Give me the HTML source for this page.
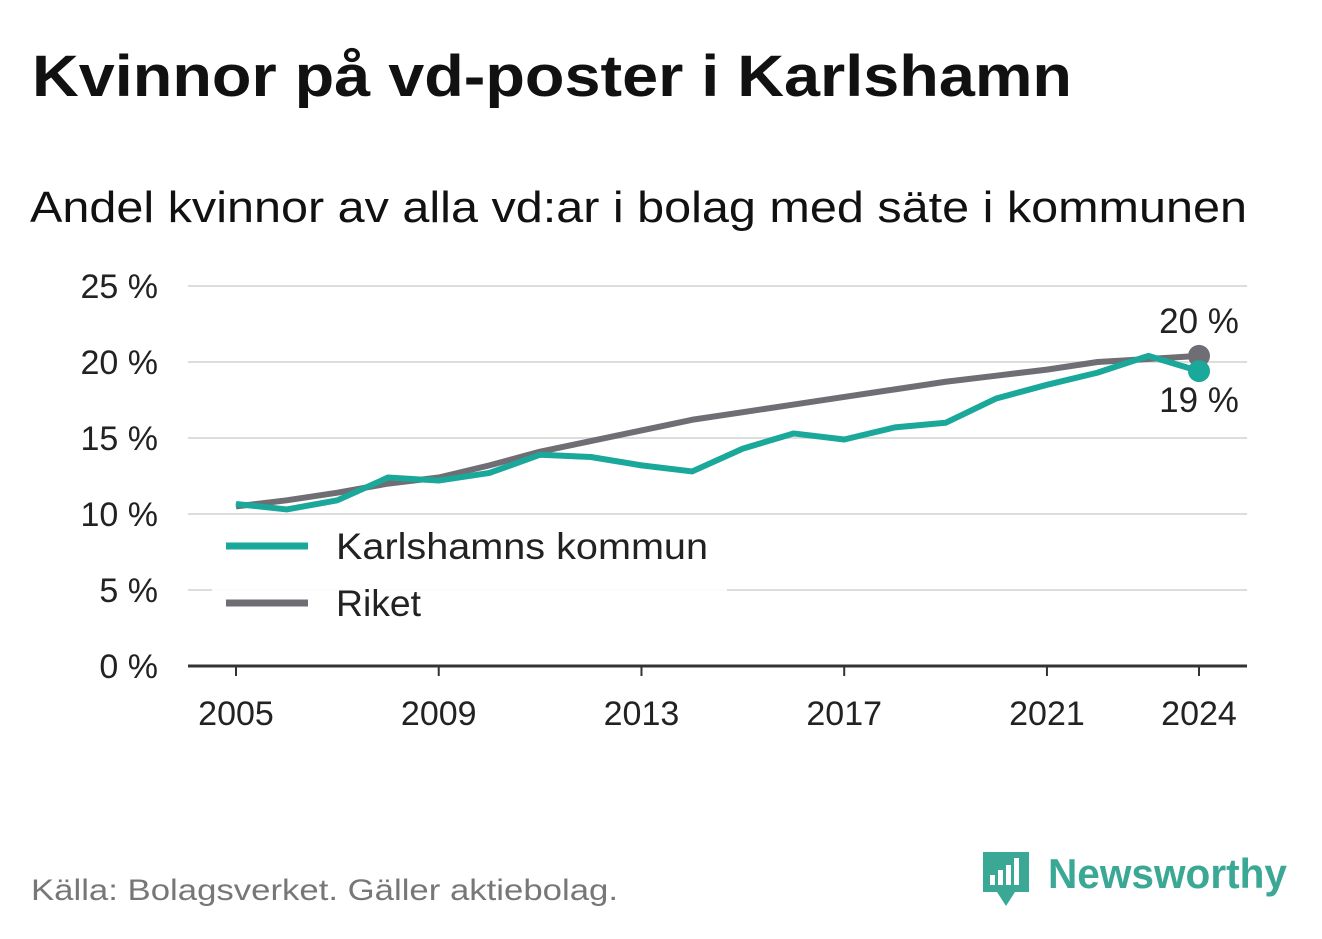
<!DOCTYPE html>
<html><head><meta charset="utf-8">
<style>
body{margin:0;background:#fff;font-family:"Liberation Sans",sans-serif;}
#wrap{position:relative;width:1322px;height:939px;overflow:hidden;background:#fff}
</style></head>
<body>
<div id="wrap">
<svg id="svg" width="1322" height="939">
<text x="32" y="96" font-size="58" font-weight="bold" fill="#111" textLength="1040" lengthAdjust="spacingAndGlyphs">Kvinnor på vd-poster i Karlshamn</text>
<text x="30" y="222" font-size="44" fill="#111" textLength="1217" lengthAdjust="spacingAndGlyphs">Andel kvinnor av alla vd:ar i bolag med säte i kommunen</text>
<text x="31" y="900" font-size="30" fill="#777" textLength="587" lengthAdjust="spacingAndGlyphs">Källa: Bolagsverket. Gäller aktiebolag.</text>
<g>
<path d="M983 852 h46 v40 h-14 l-9 14 l-9 -14 h-14 z" fill="#3aa895"/>
<rect x="990" y="875" width="5" height="10" fill="#fff"/><rect x="998" y="870" width="5" height="15" fill="#fff"/><rect x="1006" y="865" width="5" height="20" fill="#fff"/><rect x="1014" y="858" width="5" height="27" fill="#fff"/>
<text x="1048" y="888" font-size="42" font-weight="bold" fill="#3aa895" textLength="239" lengthAdjust="spacingAndGlyphs">Newsworthy</text>
</g>
<g id="plot"></g>
</svg>
</div>
<script>
const years=[2005,2006,2007,2008,2009,2010,2011,2012,2013,2014,2015,2016,2017,2018,2019,2020,2021,2022,2023,2024];
const karlshamn=[10.66,10.3,10.9,12.4,12.2,12.7,13.9,13.75,13.2,12.8,14.3,15.3,14.9,15.7,16.0,17.6,18.5,19.3,20.4,19.4];
const riket=[10.5,10.9,11.4,12.0,12.4,13.2,14.1,14.8,15.5,16.2,16.7,17.2,17.7,18.2,18.7,19.1,19.5,20.0,20.2,20.4];
const yTicks=[0,5,10,15,20,25];
const xTicks=[2005,2009,2013,2017,2021,2024];
const NS="http://www.w3.org/2000/svg";
const g=document.getElementById('plot');
const X=v=>236+(v-2005)*(1199-236)/19;
const Y=v=>666-v*15.2;
function el(t,a,txt){const e=document.createElementNS(NS,t);for(const k in a)e.setAttribute(k,a[k]);if(txt!==undefined)e.textContent=txt;g.appendChild(e);return e;}
yTicks.forEach(t=>{
 if(t>0){const l=el('line',{x1:188,x2:1247,y1:Y(t),y2:Y(t),stroke:'#ddd','stroke-width':2});
 
 }
 const tx=el('text',{x:158,y:Y(t)+12,'font-size':34,fill:'#222','text-anchor':'end'},t+' %');
 
 
});
const ax=el('line',{x1:188,x2:1247,y1:666,y2:666,stroke:'#333','stroke-width':3});


xTicks.forEach(t=>{
 const tk=el('line',{x1:X(t),x2:X(t),y1:666,y2:676,stroke:'#333','stroke-width':2});
 
 
 const tx=el('text',{x:X(t),y:725,'font-size':34,fill:'#222','text-anchor':'middle'},t);
 
 
});
const lb=el('rect',{x:212,y:515,width:515,height:105,fill:'#fff',opacity:0.9});


function line(vals,col,name){
 const p=el('polyline',{points:vals.map((v,i)=>X(years[i])+','+Y(v)).join(' '),fill:'none',stroke:col,'stroke-width':6,'stroke-linejoin':'round'});
 
 
 const c=el('circle',{cx:X(years[years.length-1]),cy:Y(vals[vals.length-1]),r:11,fill:col});
 
 
}
line(riket,'#6f6e75','riket');
line(karlshamn,'#1aa89a','karlshamn');
const l1=el('text',{x:1199,y:333,'font-size':35,fill:'#222','text-anchor':'middle'},Math.round(riket[riket.length-1])+' %');


const l2=el('text',{x:1199,y:412,'font-size':35,fill:'#222','text-anchor':'middle'},Math.round(karlshamn[karlshamn.length-1])+' %');


[['#1aa89a','Karlshamns kommun',546,372],['#6f6e75','Riket',603,85]].forEach(([c,t,y,w])=>{
 const s=el('line',{x1:226,x2:308,y1:y,y2:y,stroke:c,'stroke-width':7});
 
 
 const tx=el('text',{x:336,y:y+13,'font-size':37,fill:'#222',textLength:w,lengthAdjust:'spacingAndGlyphs'},t);
 
 
});
</script>
</body></html>
